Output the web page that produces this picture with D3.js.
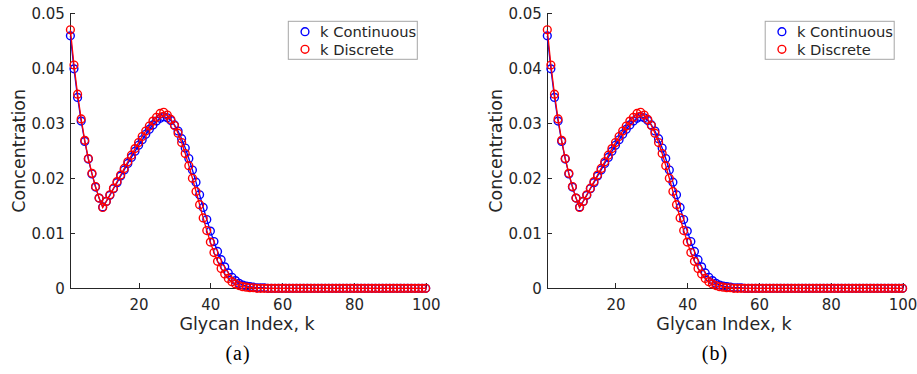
<!DOCTYPE html>
<html>
<head>
<meta charset="utf-8">
<script src="https://cdn.jsdelivr.net/npm/d3@7"></script>
<style>
body{margin:0;background:#fff}
svg text{font-family:"DejaVu Sans",sans-serif;fill:#262626}
</style>
</head>
<body>
<svg id="chart" width="917" height="374"></svg>
<script>
// glycan index k = 1..100
const glycanIndex = d3.range(1, 101)

// k Continuous (blue)
const kContinuous = [
	0.0459, 0.0399, 0.0347, 0.0304, 0.0267, 0.0235, 0.0208, 0.0184, 0.0164, 0.0148,
	0.0158, 0.0169, 0.0181, 0.0192, 0.0204, 0.0215, 0.0227, 0.0238, 0.0249, 0.0260,
	0.0270, 0.0280, 0.0289, 0.0297, 0.0304, 0.0309, 0.0312, 0.0310, 0.0305, 0.0297,
	0.0286, 0.0272, 0.0255, 0.0236, 0.0215, 0.0193, 0.0170, 0.0147, 0.0125, 0.0104,
	0.0085, 0.0067, 0.0052, 0.0039, 0.0028, 0.0020, 0.0014, 0.0009, 0.0006, 0.0004,
	0.0003, 0.0002, 0.0001, 0.0001, 0.0001, 0, 0, 0, 0, 0,
	0, 0, 0, 0, 0, 0, 0, 0, 0, 0,
	0, 0, 0, 0, 0, 0, 0, 0, 0, 0,
	0, 0, 0, 0, 0, 0, 0, 0, 0, 0,
	0, 0, 0, 0, 0, 0, 0, 0, 0, 0
]

// k Discrete (red)
const kDiscrete = [
	0.0470, 0.0406, 0.0353, 0.0308, 0.0269, 0.0236, 0.0209, 0.0185, 0.0164, 0.0147,
	0.0158, 0.0170, 0.0182, 0.0194, 0.0206, 0.0218, 0.0230, 0.0242, 0.0254, 0.0265,
	0.0276, 0.0286, 0.0295, 0.0304, 0.0311, 0.0318, 0.0320, 0.0315, 0.0307, 0.0296,
	0.0282, 0.0265, 0.0245, 0.0223, 0.0200, 0.0176, 0.0152, 0.0128, 0.0105, 0.0084,
	0.0065, 0.0049, 0.0036, 0.0026, 0.0018, 0.0012, 0.0008, 0.0005, 0.0003, 0.0002,
	0.0001, 0.0001, 0, 0, 0, 0, 0, 0, 0, 0,
	0, 0, 0, 0, 0, 0, 0, 0, 0, 0,
	0, 0, 0, 0, 0, 0, 0, 0, 0, 0,
	0, 0, 0, 0, 0, 0, 0, 0, 0, 0,
	0, 0, 0, 0, 0, 0, 0, 0, 0, 0
]

const xTicks = [20, 40, 60, 80, 100]
const yTicks = [0, 0.01, 0.02, 0.03, 0.04, 0.05]
const seriesNames = ["k Continuous", "k Discrete"]
const seriesColors = ["#0000ff", "#ff0000"]
const captions = ["(a)", "(b)"]

const svg = d3.select("#chart")
const panelLeft = [70.4, 547.3], plotW = 355.3, plotTop = 13.3, plotBottom = 288.3

function drawPanel(x0, caption){
	const g = svg.append("g")
	const x = d3.scaleLinear().domain([1, 100]).range([x0, x0 + plotW])
	const y = d3.scaleLinear().domain([0, 0.05]).range([plotBottom, plotTop])

	const xAxis = g.append("g").attr("transform", `translate(0,${plotBottom})`)
		.call(d3.axisBottom(x).tickValues(xTicks).tickSizeInner(-5).tickSizeOuter(0).tickPadding(11))
	const yAxis = g.append("g").attr("transform", `translate(${x0},0)`)
		.call(d3.axisLeft(y).tickValues(yTicks).tickSizeInner(-5).tickSizeOuter(0).tickPadding(5.5)
			.tickFormat(d => d === 0 ? "0" : d3.format(".2f")(d)))
	for (const a of [xAxis, yAxis]){
		a.attr("font-family", null).attr("font-size", null)
		a.selectAll("path,line").attr("stroke", "#262626").attr("shape-rendering", "crispEdges")
		a.selectAll("text").style("font-size", "15px").attr("fill", "#262626")
	}

	const line = d3.line().x((d, i) => x(glycanIndex[i])).y(d => y(d))
	;[kContinuous, kDiscrete].forEach((vals, s) => {
		g.append("path").datum(vals)
			.attr("d", line)
			.attr("fill", "none").attr("stroke", seriesColors[s]).attr("stroke-width", 1.3)
		g.append("g").selectAll("circle")
			.data(vals)
			.enter().append("circle")
			.attr("cx", (d, i) => x(glycanIndex[i]))
			.attr("cy", d => y(d))
			.attr("r", 3.9)
			.attr("fill", "none").attr("stroke", seriesColors[s]).attr("stroke-width", 1.4)
	})

	// axis labels
	g.append("text").attr("x", x0 + plotW / 2 - 1).attr("y", 330)
		.attr("text-anchor", "middle").style("font-size", "17.5px").text("Glycan Index, k")
	g.append("text").attr("transform", `translate(${x0 - 45.5},${(plotTop + plotBottom) / 2}) rotate(-90)`)
		.attr("text-anchor", "middle").style("font-size", "17.5px").text("Concentration")

	// legend
	const lg = g.append("g").attr("transform", `translate(${x0 + 217.9},21.3)`)
	lg.append("rect").attr("width", 129).attr("height", 38)
		.attr("fill", "#fff").attr("stroke", "#a6a6a6").attr("stroke-width", 1)
	seriesNames.forEach((name, s) => {
		const cy = 10.4 + s * 17.6
		lg.append("circle").attr("cx", 16.7).attr("cy", cy).attr("r", 3.9)
			.attr("fill", "none").attr("stroke", seriesColors[s]).attr("stroke-width", 1.4)
		lg.append("text").attr("x", 31.7).attr("y", cy + 5.6)
			.style("font-size", "14.7px").text(name)
	})

	// caption
	svg.append("text").attr("x", x0 + 167.6).attr("y", 359.5)
		.attr("text-anchor", "middle")
		.style("font-family", "'Liberation Serif', serif").style("font-size", "20px")
		.style("letter-spacing", "1px").style("fill", "#000")
		.text(caption)
}

panelLeft.forEach((x0, i) => drawPanel(x0, captions[i]))
</script>
</body>
</html>
